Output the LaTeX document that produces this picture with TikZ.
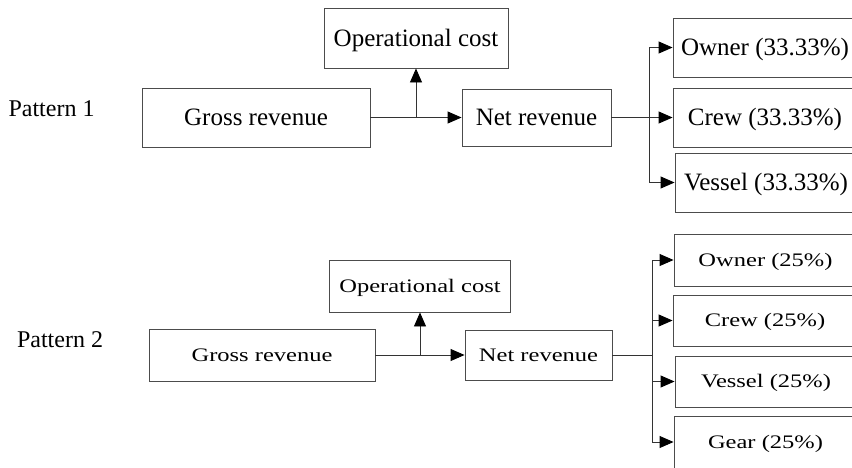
\documentclass[tikz,border=0pt]{standalone}
\usepackage{fontspec}
\usepackage{graphicx}
\setmainfont{Liberation Serif}
\usetikzlibrary{arrows.meta}
\begin{document}
\begin{tikzpicture}[x=1pt,y=-1pt,
  box/.style={draw=black!70, line width=0.9pt, rectangle, inner sep=0pt,
    font=\fontsize{25}{28}\selectfont, text height=16.5pt, text depth=0pt},
  boxb/.style={box, font=\fontsize{24.5}{28}\selectfont, text height=12.9pt},
  lbl/.style={font=\fontsize{24}{28}\selectfont, inner sep=0pt, text height=15.8pt, text depth=0pt},
  arr/.style={line width=0.9pt, draw=black!80, -{Triangle[length=14pt,width=12pt,fill=black,color=black]}},
  ln/.style={line width=0.9pt, draw=black!80}]
\useasboundingbox (0,0) rectangle (852,467);
\clip (0,0) rectangle (852,467);
% Pattern 1
\node[lbl] (p1) at (51.5,109) {Pattern 1};
\node[box, minimum width=228pt, minimum height=59pt] (g1) at (256,117.5) {Gross revenue};
\node[box, minimum width=184pt, minimum height=60pt] (op1) at (416,38) {Operational cost};
\node[box, minimum width=149pt, minimum height=57pt] (n1) at (536.5,117.5) {Net revenue};
\node[box, minimum width=184pt, minimum height=59pt] (o1) at (765,47.5) {Owner (33.33\%)};
\node[box, minimum width=184pt, minimum height=59pt] (c1) at (765,117.5) {Crew (33.33\%)};
\node[box, minimum width=182pt, minimum height=59pt] (v1) at (766,182.5) {Vessel (33.33\%)};
\coordinate (j1) at (416,117.5);
\coordinate (b1) at (649,117.5);
\draw[arr] (g1.east) -- (n1.west);
\draw[arr] (j1) -- (op1.south);
\draw[ln] (n1.east) -- (b1);
\draw[arr] (b1) |- (o1.west);
\draw[arr] (b1) -- (c1.west);
\draw[arr] (b1) |- (v1.west);
% Pattern 2
\node[lbl] (p2) at (60,340) {Pattern 2};
\node[boxb, minimum width=226pt, minimum height=52pt] (g2) at (262,355) {\scalebox{1}[0.78]{Gross revenue}};
\node[boxb, minimum width=181pt, minimum height=52pt] (op2) at (420,286) {\scalebox{1}[0.78]{Operational cost}};
\node[boxb, minimum width=147pt, minimum height=50pt] (n2) at (538.5,355) {\scalebox{1}[0.78]{Net revenue}};
\node[boxb, minimum width=183pt, minimum height=52pt] (o2) at (765.5,260) {\scalebox{1}[0.78]{Owner (25\%)}};
\node[boxb, minimum width=184pt, minimum height=51pt] (c2) at (765,320.5) {\scalebox{1}[0.78]{Crew (25\%)}};
\node[boxb, minimum width=182pt, minimum height=51pt] (v2) at (766,381.5) {\scalebox{1}[0.78]{Vessel (25\%)}};
\node[boxb, minimum width=183pt, minimum height=52pt] (gr2) at (765.5,442) {\scalebox{1}[0.78]{Gear (25\%)}};
\coordinate (j2) at (420,355);
\coordinate (b2) at (652,355);
\draw[arr] (g2.east) -- (n2.west);
\draw[arr] (j2) -- (op2.south);
\draw[ln] (n2.east) -- (b2);
\draw[arr] (b2) |- (o2.west);
\draw[arr] (b2) |- (c2.west);
\draw[arr] (b2) |- (v2.west);
\draw[arr] (b2) |- (gr2.west);
\end{tikzpicture}
\end{document}
